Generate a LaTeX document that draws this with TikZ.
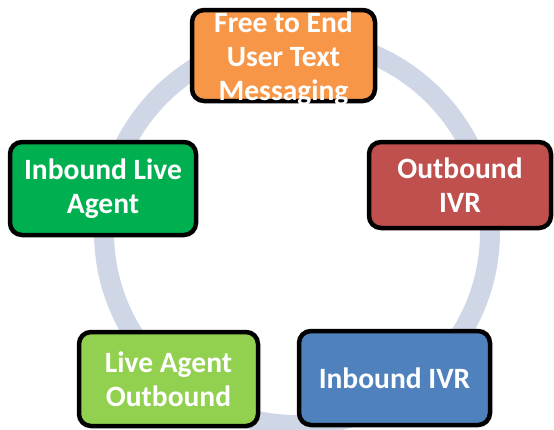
\documentclass[tikz,border=0pt]{standalone}
\usepackage{fontspec}
\setmainfont{Carlito}
\definecolor{ringc}{RGB}{207,214,230}
\definecolor{orangec}{RGB}{247,150,70}
\definecolor{redc}{RGB}{192,80,77}
\definecolor{greenc}{RGB}{0,176,80}
\definecolor{lgreenc}{RGB}{146,208,80}
\definecolor{bluec}{RGB}{79,129,189}
\tikzset{
  boxstyle/.style={draw=black, line width=4.5pt, rounded corners=12pt, inner sep=0pt},
  labelstyle/.style={text=white, align=center, inner sep=0pt,
    font=\fontsize{29.5}{34}\selectfont\bfseries},
}
\begin{document}
\begin{tikzpicture}[x=1pt,y=-1pt]
\useasboundingbox (0,0) rectangle (554,429);
\draw[ringc, line width=20pt] (297,232) circle (193);
\node[boxstyle, fill=orangec, minimum width=183pt, minimum height=91pt] (free) at (283.5,55.5) {};
\node[boxstyle, fill=redc, minimum width=182pt, minimum height=86pt] (outivr) at (460,185) {};
\node[boxstyle, fill=greenc, minimum width=186pt, minimum height=93pt] (inlive) at (103,188.5) {};
\node[boxstyle, fill=lgreenc, minimum width=179pt, minimum height=94pt] (liveout) at (168.5,379) {};
\node[boxstyle, fill=bluec, minimum width=191pt, minimum height=94pt] (inivr) at (394.5,378) {};
\node[labelstyle] (tfree) at ([yshift=-3pt]free.center) {Free to End\\User Text\\Messaging};
\node[labelstyle] (toutivr) at (outivr.center) {Outbound\\IVR};
\node[labelstyle] (tinlive) at (inlive.center) {Inbound Live\\Agent};
\node[labelstyle] (tliveout) at (liveout.center) {Live Agent\\Outbound};
\node[labelstyle] (tinivr) at (inivr.center) {Inbound IVR};
\end{tikzpicture}
\end{document}
